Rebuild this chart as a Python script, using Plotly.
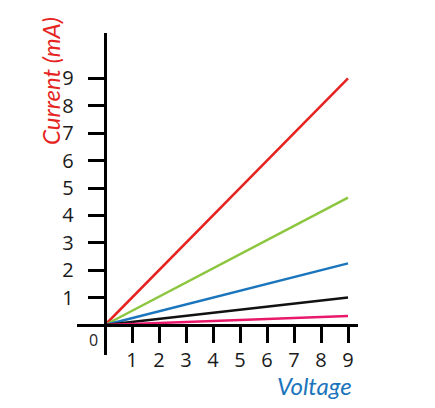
import plotly.graph_objects as go

voltage = [0, 9]
series_names = ["red", "green", "blue", "black", "pink"]
currents = {
    "red": [0, 9.0],
    "green": [0, 4.65],
    "blue": [0, 2.25],
    "black": [0, 1.0],
    "pink": [0, 0.33],
}
colors = {
    "red": "#e52421",
    "green": "#8cc63e",
    "blue": "#1b75bc",
    "black": "#111111",
    "pink": "#e8196b",
}
tick_vals = [1, 2, 3, 4, 5, 6, 7, 8, 9]
tick_text = [str(v) for v in tick_vals]

# page body has an 8px margin; work in page pixels minus that offset
OFF = 8
W, H = 435 - OFF, 408 - OFF


def px(x):
    return (x - OFF) / W


def py(y):
    return (H - (y - OFF)) / H


fig = go.Figure()
for name in series_names:
    fig.add_trace(go.Scatter(x=voltage, y=currents[name], mode="lines",
                             line=dict(color=colors[name], width=2.5),
                             showlegend=False, hoverinfo="skip"))

fig.update_layout(
    width=W, height=H, autosize=False,
    margin=dict(l=0, r=0, t=0, b=0),
    paper_bgcolor="white", plot_bgcolor="white",
    font=dict(family="Open Sans, Lato, sans-serif", size=18, color="#1a1a1a"),
    xaxis=dict(
        domain=[px(77), px(358)], range=[-28 / 27, 253 / 27],
        anchor="free", position=py(325),
        showline=True, linecolor="black", linewidth=3,
        ticks="outside", ticklen=16, tickwidth=3, tickcolor="black",
        tickvals=tick_vals, ticktext=tick_text,
        tickfont=dict(size=20, color="#1a1a1a"),
        showgrid=False, zeroline=False, fixedrange=True,
    ),
    yaxis=dict(
        domain=[py(355), py(33)], range=[-30 / 27.4, 292 / 27.4],
        anchor="free", position=px(105),
        showline=True, linecolor="black", linewidth=3,
        ticks="outside", ticklen=16, tickwidth=3, tickcolor="black",
        tickvals=tick_vals, ticktext=[t + "  " for t in tick_text],
        tickfont=dict(size=20, color="#1a1a1a"),
        showgrid=False, zeroline=False, fixedrange=True,
    ),
    annotations=[
        dict(text="0", x=px(93), y=py(340), xref="paper", yref="paper",
             showarrow=False, font=dict(size=16, color="#222"),
             xanchor="center", yanchor="middle"),
        dict(text="<i>Voltage</i>", x=px(314), y=py(385), xref="paper", yref="paper",
             showarrow=False, font=dict(family="Lato, sans-serif", size=24, color="#1b75bc"),
             xanchor="center", yanchor="middle"),
        dict(text="<i>Current (mA)</i>", x=px(50), y=py(81), xref="paper", yref="paper",
             showarrow=False, textangle=-90,
             font=dict(family="Lato, sans-serif", size=24, color="#e52421"),
             xanchor="center", yanchor="middle"),
    ],
)
fig.write_html("out.html")
